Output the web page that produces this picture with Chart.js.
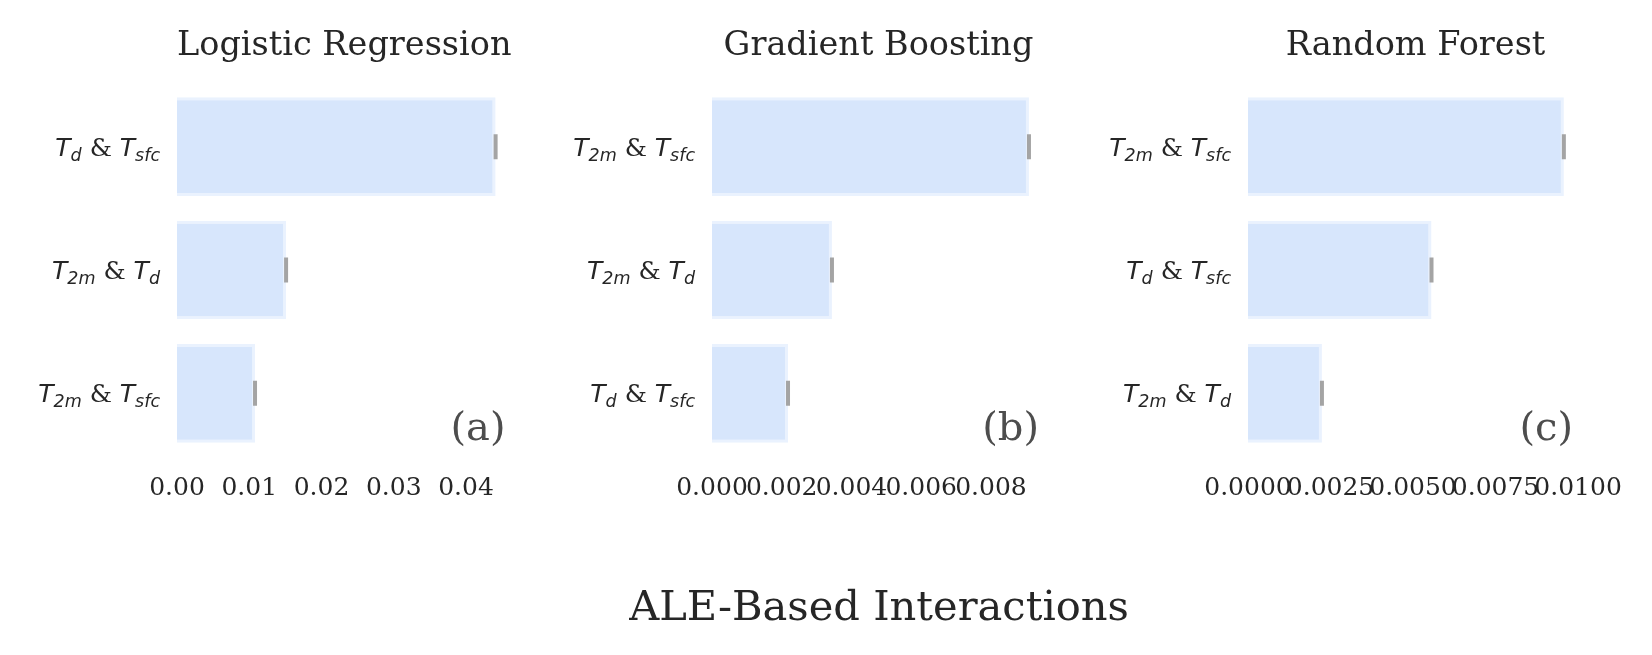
<!DOCTYPE html>
<html>
<head>
<meta charset="utf-8">
<script src="https://cdn.jsdelivr.net/npm/chart.js@4.4.1/dist/chart.umd.min.js"></script>
<style>
  body { margin: 0; background: #fff; width: 1652px; height: 655px; position: relative; overflow: hidden; }
  canvas { position: absolute; top: 0; }
  #sup { position: absolute; left: 379px; width: 1000px; top: 585px; font: 41.6px/1 'DejaVu Serif'; color: #262626; text-align: center; }
</style>
</head>
<body>
<canvas id="lr" width="560" height="655" style="left:0px"></canvas>
<canvas id="gb" width="540" height="655" style="left:560px"></canvas>
<canvas id="rf" width="552" height="655" style="left:1100px"></canvas>
<div id="sup">ALE-Based Interactions</div>
<script>
// data
const lrLabels = ['T_{d} & T_{sfc}', 'T_{2m} & T_{d}', 'T_{2m} & T_{sfc}'];
const lrValues = [0.0441, 0.0151, 0.0108];

const gbLabels = ['T_{2m} & T_{sfc}', 'T_{2m} & T_{d}', 'T_{d} & T_{sfc}'];
const gbValues = [0.00909, 0.00344, 0.00218];

const rfLabels = ['T_{2m} & T_{sfc}', 'T_{d} & T_{sfc}', 'T_{2m} & T_{d}'];
const rfValues = [0.00957, 0.00556, 0.00224];

const TEXT = '#262626';
const ITALIC = 'italic 25px "DejaVu Sans"';
const SUB = 'italic 17.5px "DejaVu Sans"';
const PLAIN = '25px "DejaVu Serif"';

function mathParts(label) {
    const out = [];
    label.split(' & ').forEach((term, k) => {
        if (k) out.push({t: ' & ', f: PLAIN, dy: 0});
        const m = term.match(/^(\w)_\{(\w+)\}$/);
        out.push({t: m[1], f: ITALIC, dy: 0});
        out.push({t: m[2], f: SUB, dy: 5});
    });
    return out;
}

function drawMath(ctx, label, right, base) {
    const parts = mathParts(label);
    let w = 0;
    parts.forEach(p => { ctx.font = p.f; p.w = ctx.measureText(p.t).width; w += p.w; });
    let x = right - w;
    ctx.textAlign = 'left';
    parts.forEach(p => {
        ctx.font = p.f;
        ctx.fillText(p.t, x, base + p.dy);
        x += p.w;
    });
}

const decor = {
    id: 'decor',
    afterDraw(chart, args, opts) {
        const ctx = chart.ctx, area = chart.chartArea, y = chart.scales.y;
        ctx.save();
        ctx.fillStyle = TEXT;
        ctx.textBaseline = 'alphabetic';
        ctx.font = '33.5px "DejaVu Serif"';
        ctx.textAlign = 'center';
        ctx.fillText(opts.title, (area.left + area.right) / 2, 55);
        opts.labels.forEach((lab, i) => drawMath(ctx, lab, area.left - 17, y.getPixelForValue(i) + 9));
        ctx.fillStyle = '#4d4d4d';
        ctx.font = '40px "DejaVu Serif"';
        ctx.textAlign = 'right';
        ctx.fillText(opts.letter, area.right - opts.inset, 440);
        ctx.restore();
    }
};

function makePanel(id, title, letter, labels, values, xMax, step, decimals, yWidth, padRight, inset) {
    new Chart(document.getElementById(id), {
        type: 'bar',
        plugins: [decor],
        data: {
            labels: labels,
            datasets: [
                {
                    type: 'line',
                    indexAxis: 'y',
                    order: 0,
                    data: values.map((v, i) => ({x: v, y: labels[i]})),
                    showLine: false,
                    pointStyle: 'line',
                    pointRadius: 12.5,
                    pointRotation: 90,
                    pointBorderWidth: 4,
                    pointBorderColor: '#a4a4a4',
                    pointBackgroundColor: '#a4a4a4'
                },
                {
                    order: 1,
                    data: values,
                    backgroundColor: '#d7e6fc',
                    borderColor: '#eaf2fe',
                    borderWidth: 3,
                    barPercentage: 0.8,
                    categoryPercentage: 1.0
                }
            ]
        },
        options: {
            indexAxis: 'y',
            responsive: false,
            animation: false,
            events: [],
            layout: {padding: {top: 85, right: padRight, bottom: 0, left: 0}},
            plugins: {
                legend: {display: false},
                tooltip: {enabled: false},
                decor: {title: title, letter: letter, labels: labels, inset: inset}
            },
            scales: {
                x: {
                    min: 0,
                    max: xMax,
                    grid: {display: false},
                    border: {display: false},
                    afterFit: s => { s.height = 200; },
                    ticks: {
                        stepSize: step,
                        includeBounds: false,
                        autoSkip: false,
                        maxRotation: 0,
                        padding: 10,
                        color: TEXT,
                        font: {family: 'DejaVu Serif', size: 25},
                        callback: v => Number(v).toFixed(decimals)
                    }
                },
                y: {
                    grid: {display: false},
                    border: {display: false},
                    ticks: {display: false},
                    afterFit: s => { s.width = yWidth; }
                }
            }
        }
    });
}

makePanel('lr', 'Logistic Regression', '(a)', lrLabels, lrValues, 0.0463, 0.01, 2, 177, 48.5, 6);
makePanel('gb', 'Gradient Boosting', '(b)', gbLabels, gbValues, 0.00955, 0.002, 3, 152, 55, 6);
makePanel('rf', 'Random Forest', '(c)', rfLabels, rfValues, 0.01015, 0.0025, 4, 148, 69, 10);
</script>
</body>
</html>
